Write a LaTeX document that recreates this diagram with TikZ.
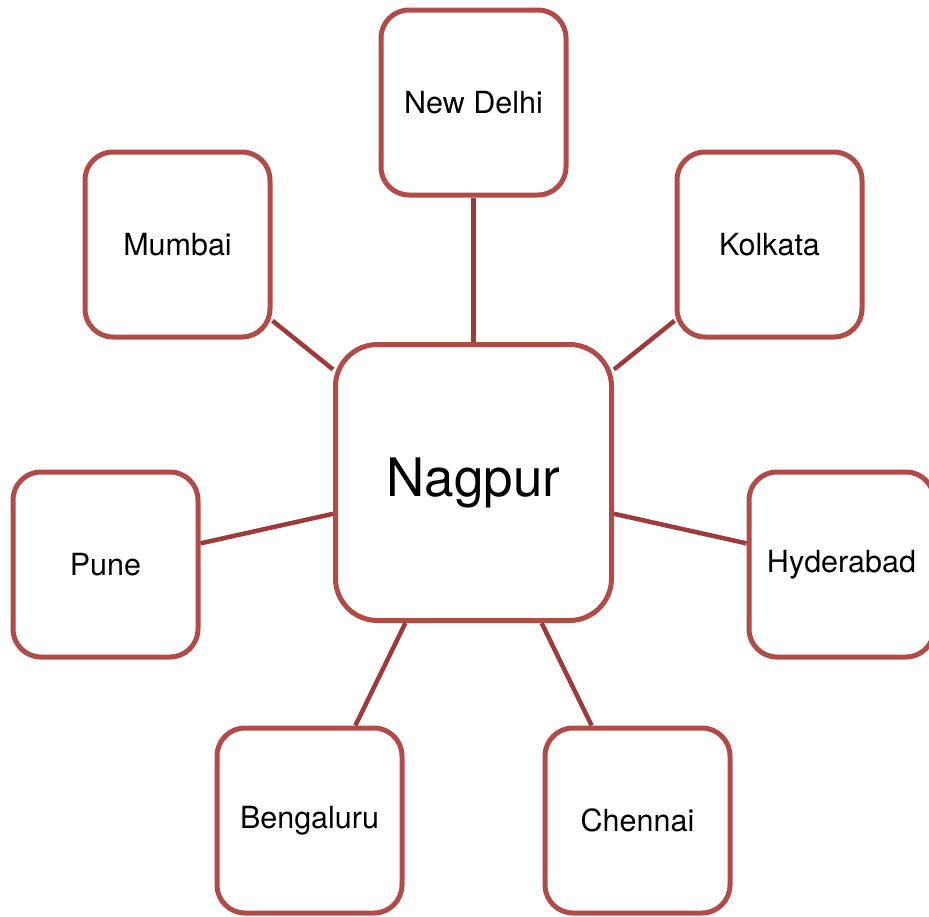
\documentclass[tikz,border=0pt]{standalone}
\usepackage{fontspec}
\setmainfont{TeX Gyre Heros}
\usepackage{xcolor}
\usepackage{tikz}
\usetikzlibrary{shapes,arrows}
\usetikzlibrary{positioning}
\definecolor{boxred}{HTML}{B04B48}
\definecolor{linkred}{HTML}{9E3A39}
\tikzstyle{city} = [rectangle, draw=boxred, line width=5pt, fill=white,
    text centered, rounded corners=28pt, minimum size=185pt, font=\fontsize{30.5}{34}\selectfont]
\tikzstyle{hub} = [rectangle, draw=boxred, line width=5pt, fill=white,
    text centered, rounded corners=42pt, minimum size=276pt, font=\fontsize{53}{58}\selectfont]
\tikzstyle{link} = [draw=linkred, line width=4.5pt]

\begin{document}
\begin{tikzpicture}[on grid, auto]
    \useasboundingbox (0,0) rectangle (929pt,-916pt);
    % Place nodes
    \node [hub] (nagpur) at (473.5pt,-482.5pt) {Nagpur};
    \node [city, above=380pt of nagpur] (delhi) {New Delhi};
    \node [city, above left=238pt and 296pt of nagpur] (mumbai) {Mumbai};
    \node [city, above right=238pt and 296pt of nagpur] (kolkata) {Kolkata};
    \node [city, below left=82pt and 368pt of nagpur] (pune) {Pune};
    \node [city, below right=82pt and 368pt of nagpur] (hyderabad) {Hyderabad};
    \node [city, below left=338pt and 164pt of nagpur] (bengaluru) {Bengaluru};
    \node [city, below right=338pt and 164pt of nagpur] (chennai) {Chennai};

    % Draw edges
    \path [link] (nagpur) -- (delhi);
    \path [link] (nagpur) -- (mumbai);
    \path [link] (nagpur) -- (kolkata);
    \path [link] (nagpur) -- (pune);
    \path [link] (nagpur) -- (hyderabad);
    \path [link] (nagpur) -- (bengaluru);
    \path [link] (nagpur) -- (chennai);
\end{tikzpicture}
\end{document}
